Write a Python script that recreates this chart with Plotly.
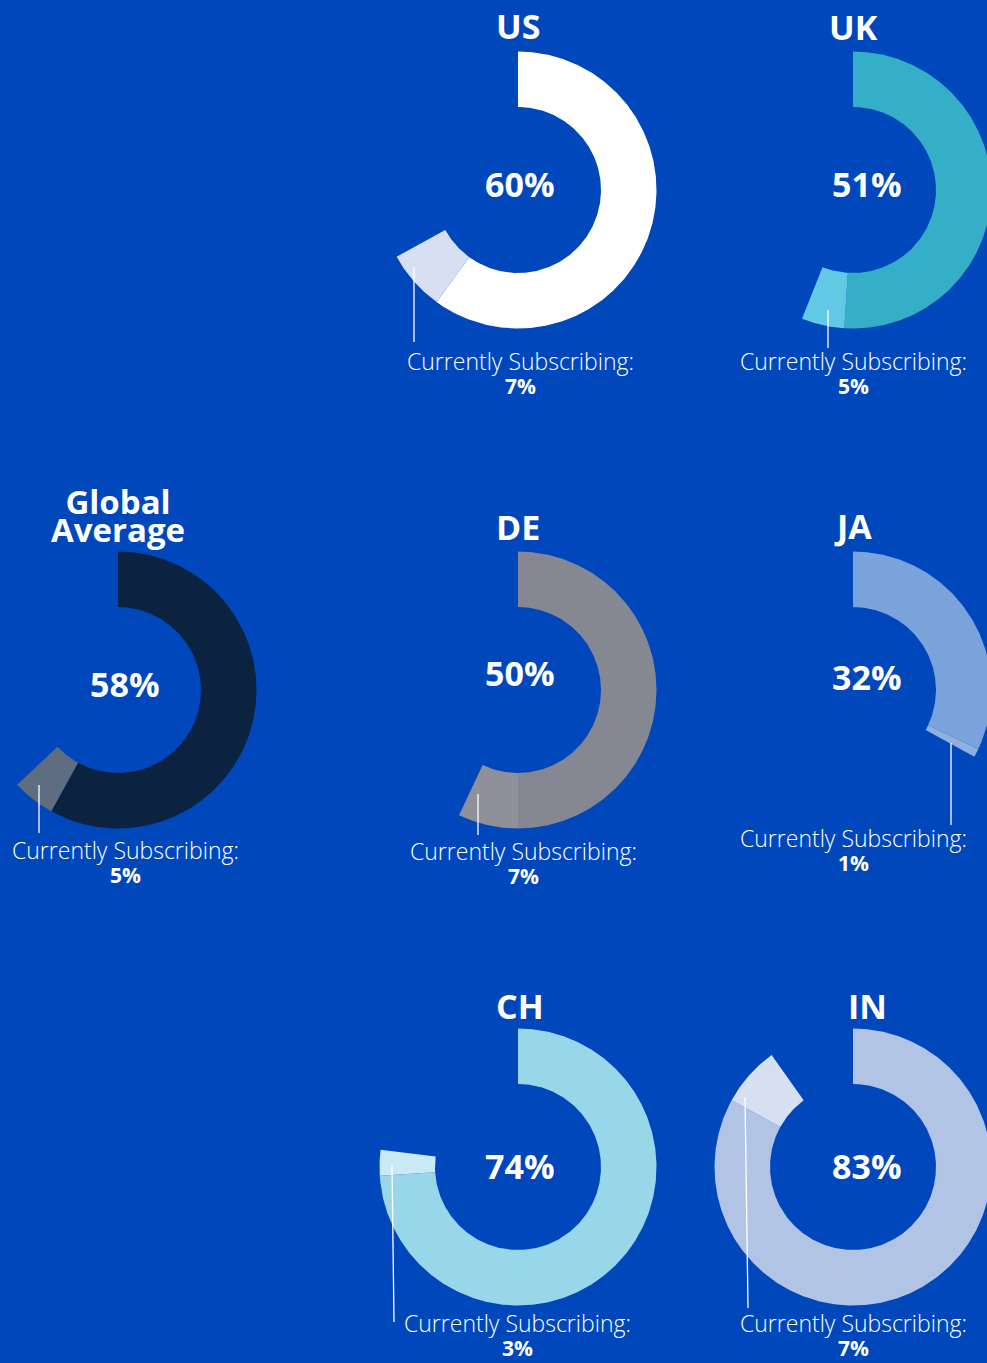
import numpy as np
import plotly.graph_objects as go

# ---------------- data ----------------
regions = ["US", "UK", "Global Average", "DE", "JA", "CH", "IN"]
interested = [60, 51, 58, 50, 32, 74, 83]       # % shown in centre of each donut
subscribing = [7, 5, 5, 7, 1, 3, 7]             # % currently subscribing
sub_label = "Currently Subscribing:"

# ---------------- styles ----------------
main_colors = ["#FFFFFF", "#35AFC8", "#0B2240", "#858893", "#7AA3DC", "#98D6E9", "#B1C4E6"]
sub_colors = ["#D6E0F2", "#62C9E5", "#5E6E80", "#8E909A", "#8FB0E0", "#C9EAF4", "#D6E0F2"]
BG = "#0047BB"
W, H = 987, 1363

# ---------------- layout (pixel positions) ----------------
centers = [(518, 190), (853, 190), (118, 690), (518, 690), (853, 690), (518, 1167), (853, 1167)]
R_OUT, R_IN = 138.5, 83
title_pos = [(518, 26), (853, 27), (118, 515), (518, 527), (853, 526), (520, 1006), (867, 1006)]
center_lbl_pos = [(520, 184), (867, 184), (125, 684), (520, 673), (867, 677), (520, 1166), (867, 1166)]
# centre of the two-line "Currently Subscribing: / x%" block
cs_pos = [(520, 372.5), (853, 372.5), (125, 861), (523, 862), (853, 849), (517, 1334), (853, 1334)]
leader = [((414, 267), (414, 342)), ((828, 310), (828, 348)), ((39, 785), (39, 833)),
          ((478, 794), (478, 835)), ((951, 743), (951, 825)), ((392, 1165), (394, 1322)),
          ((745, 1097), (748, 1308))]

FONT = "'Open Sans', Lato, sans-serif"


def ring_sector(cx, cy, start_pct, end_pct):
    """Polygon of a donut sector; angles measured clockwise from 12 o'clock."""
    a0 = start_pct / 100 * 2 * np.pi
    a1 = end_pct / 100 * 2 * np.pi
    n = max(4, int(abs(a1 - a0) / (np.pi / 360)) + 2)
    t = np.linspace(a0, a1, n)
    xo = cx + R_OUT * np.sin(t)
    yo = cy - R_OUT * np.cos(t)
    xi = cx + R_IN * np.sin(t[::-1])
    yi = cy - R_IN * np.cos(t[::-1])
    xs = np.concatenate([xo, xi, xo[:1]])
    ys = np.concatenate([yo, yi, yo[:1]])
    return xs, ys


fig = go.Figure()
for i, reg in enumerate(regions):
    cx, cy = centers[i]
    segs = [(0, interested[i], main_colors[i], "Interested"),
            (interested[i], interested[i] + subscribing[i], sub_colors[i], "Currently subscribing")]
    for s0, s1, col, nm in segs:
        xs, ys = ring_sector(cx, cy, s0, s1)
        fig.add_trace(go.Scatter(
            x=xs, y=ys, mode="lines", fill="toself", fillcolor=col,
            line=dict(width=0, color=col), hoverinfo="skip", showlegend=False,
            name="%s – %s" % (reg, nm),
        ))

annotations = []
for i, reg in enumerate(regions):
    tx, ty = title_pos[i]
    if " " in reg:
        # two-line title with tight leading (line spacing = 1.3 x base font size)
        title_text = "<b><span style='font-size:33px'>%s</span></b>" % reg.replace(
            " ", "</span></b><br><b><span style='font-size:33px'>")
        title_font = dict(family=FONT, size=21.5, color="white")
    else:
        title_text = "<b>%s</b>" % reg
        title_font = dict(family=FONT, size=34, color="white")
    annotations.append(dict(x=tx, y=ty, text=title_text, showarrow=False,
                            xanchor="center", yanchor="middle", font=title_font))

    lx, ly = center_lbl_pos[i]
    annotations.append(dict(x=lx, y=ly, text="<b>%d%%</b>" % interested[i], showarrow=False,
                            xanchor="center", yanchor="middle",
                            font=dict(family=FONT, size=34, color="white")))

    sx, sy = cs_pos[i]
    cs_text = ("<span style='font-size:23px;font-weight:300'>%s</span><br>"
               "<b><span style='font-size:21px'>%d%%</span></b>" % (sub_label, subscribing[i]))
    annotations.append(dict(x=sx, y=sy, text=cs_text, showarrow=False,
                            xanchor="center", yanchor="middle", align="center",
                            font=dict(family=FONT, size=18.2, color="white")))

shapes = []
for (a, b) in leader:
    shapes.append(dict(type="line", xref="x", yref="y",
                       x0=a[0], y0=a[1], x1=b[0], y1=b[1],
                       line=dict(color="white", width=1.3)))

fig.update_layout(
    width=W, height=H,
    margin=dict(l=0, r=0, t=0, b=0),
    paper_bgcolor=BG, plot_bgcolor=BG,
    annotations=annotations,
    shapes=shapes,
    xaxis=dict(range=[0, W], visible=False, fixedrange=True),
    yaxis=dict(range=[H, 0], visible=False, fixedrange=True),
)

fig.write_html(
    "out.html",
    config={"displayModeBar": False},
    post_script="document.body.style.margin='0';document.body.style.overflow='hidden';",
)
